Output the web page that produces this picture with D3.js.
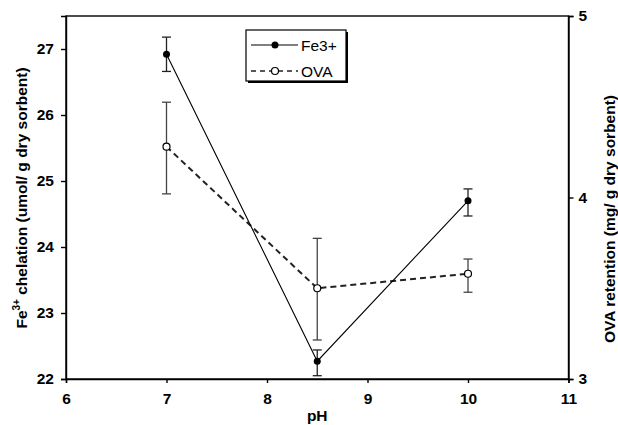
<!DOCTYPE html>
<html><head><meta charset="utf-8">
<script src="https://cdn.jsdelivr.net/npm/d3@7"></script>
<style>body{margin:0;background:#fff}svg{display:block}</style>
</head><body>
<script>
const pH = [7, 8.5, 10];
const fe = [26.92, 22.27, 24.70];
const feLo = [26.66, 22.05, 24.47];
const feHi = [27.18, 22.44, 24.88];
const ova = [4.28, 3.50, 3.58];
const ovaLo = [4.02, 3.215, 3.478];
const ovaHi = [4.525, 3.775, 3.661];
const xTicks = [6, 7, 8, 9, 10, 11];
const yLeftTicks = [22, 23, 24, 25, 26, 27];
const yRightTicks = [3, 4, 5];

const W = 618, H = 425;
const m = {l: 66, r: 49.5, t: 16, b: 46};
const svg = d3.select("body").append("svg").attr("width", W).attr("height", H);
const font = "'Liberation Sans', Arial, sans-serif";

const x = d3.scaleLinear().domain([6, 11]).range([m.l, W - m.r]);
const yL = d3.scaleLinear().domain([22, 27.5]).range([H - m.b, m.t]);
const yR = d3.scaleLinear().domain([3, 5]).range([H - m.b, m.t]);

// frame
svg.append("rect").attr("x", m.l).attr("y", m.t).attr("width", W - m.r - m.l).attr("height", H - m.b - m.t)
  .attr("fill", "none").attr("stroke", "#000").attr("stroke-width", 1.4);

const styleAxis = g => {
  g.select(".domain").attr("stroke", "#000").attr("stroke-width", 1.4);
  g.selectAll(".tick line").attr("stroke", "#000").attr("stroke-width", 1.4);
  g.selectAll("text").attr("font-family", font).attr("font-size", 15.5).attr("font-weight", "bold").attr("fill", "#000");
};

svg.append("g").attr("transform", `translate(0,${H - m.b})`)
  .call(d3.axisBottom(x).tickValues(xTicks).tickFormat(d3.format("d")).tickSize(4).tickPadding(10))
  .call(styleAxis);
svg.append("g").attr("transform", `translate(${m.l},0)`)
  .call(d3.axisLeft(yL).tickValues(yLeftTicks).tickFormat(d3.format("d")).tickSize(5).tickPadding(7))
  .call(styleAxis);
svg.append("g").attr("transform", `translate(${W - m.r},0)`)
  .call(d3.axisRight(yR).tickValues(yRightTicks).tickFormat(d3.format("d")).tickSize(5).tickPadding(5))
  .call(styleAxis);

// axis titles
svg.append("text").attr("x", (m.l + W - m.r) / 2).attr("y", 421).attr("text-anchor", "middle")
  .attr("font-family", font).attr("font-size", 15.5).attr("font-weight", "bold").text("pH");

const lt = svg.append("text").attr("transform", `translate(27,198) rotate(-90)`).attr("text-anchor", "middle")
  .attr("font-family", font).attr("font-size", 15.5).attr("font-weight", "bold");
lt.append("tspan").text("Fe");
lt.append("tspan").attr("font-size", 10).attr("dy", -7).text("3+");
lt.append("tspan").attr("dy", 7).text(" chelation (umol/ g dry sorbent)");

svg.append("text").attr("transform", `translate(615,219) rotate(-90)`).attr("text-anchor", "middle")
  .attr("font-family", font).attr("font-size", 15.5).attr("font-weight", "bold")
  .text("OVA retention (mg/ g dry sorbent)");

// error bars
function errBars(lo, hi, y, color) {
  const g = svg.append("g").attr("stroke", color).attr("stroke-width", 1.3);
  pH.forEach((p, i) => {
    g.append("line").attr("x1", x(p)).attr("x2", x(p)).attr("y1", y(lo[i])).attr("y2", y(hi[i]));
    [lo[i], hi[i]].forEach(v => g.append("line").attr("x1", x(p) - 4.5).attr("x2", x(p) + 4.5).attr("y1", y(v)).attr("y2", y(v)));
  });
}
errBars(ovaLo, ovaHi, yR, "#444");
errBars(feLo, feHi, yL, "#222");

// lines
svg.append("path").datum(pH.map((p, i) => [x(p), yR(ova[i])]))
  .attr("d", d3.line()).attr("fill", "none").attr("stroke", "#222").attr("stroke-width", 2).attr("stroke-dasharray", "6,4");
svg.append("path").datum(pH.map((p, i) => [x(p), yL(fe[i])]))
  .attr("d", d3.line()).attr("fill", "none").attr("stroke", "#000").attr("stroke-width", 1.1);

svg.selectAll(".ovap").data(pH).enter().append("circle")
  .attr("cx", d => x(d)).attr("cy", (d, i) => yR(ova[i])).attr("r", 3.5)
  .attr("fill", "#fff").attr("stroke", "#000").attr("stroke-width", 1.2);
svg.selectAll(".fep").data(pH).enter().append("circle")
  .attr("cx", d => x(d)).attr("cy", (d, i) => yL(fe[i])).attr("r", 3.5)
  .attr("fill", "#000");

// legend
const lg = svg.append("g");
lg.append("rect").attr("x", 248).attr("y", 32).attr("width", 100).attr("height", 51).attr("fill", "#000");
lg.append("rect").attr("x", 246).attr("y", 30).attr("width", 100).attr("height", 51).attr("fill", "#fff").attr("stroke", "#000").attr("stroke-width", 1.2);
lg.append("line").attr("x1", 251).attr("x2", 298).attr("y1", 45).attr("y2", 45).attr("stroke", "#000").attr("stroke-width", 1.1);
lg.append("circle").attr("cx", 275).attr("cy", 45).attr("r", 3.5).attr("fill", "#000");
lg.append("line").attr("x1", 251).attr("x2", 298).attr("y1", 71).attr("y2", 71).attr("stroke", "#222").attr("stroke-width", 1.5).attr("stroke-dasharray", "5,4");
lg.append("circle").attr("cx", 275).attr("cy", 71).attr("r", 3.5).attr("fill", "#fff").attr("stroke", "#000").attr("stroke-width", 1.2);
lg.append("text").attr("x", 301).attr("y", 50.5).attr("font-family", font).attr("font-size", 15.5).text("Fe3+");
lg.append("text").attr("x", 301).attr("y", 76.5).attr("font-family", font).attr("font-size", 15.5).text("OVA");
</script>
</body></html>
